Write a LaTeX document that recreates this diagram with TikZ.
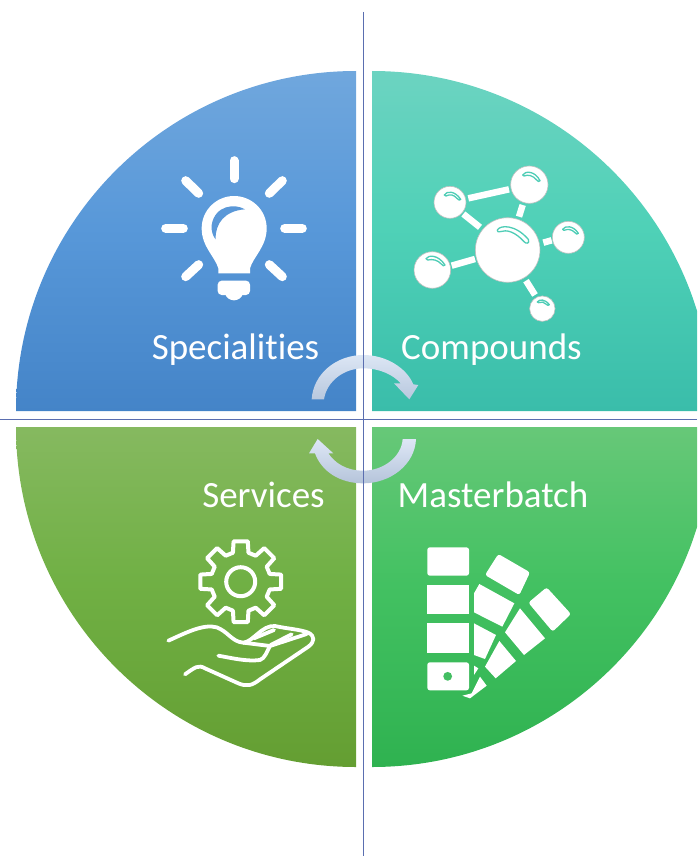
\documentclass[tikz,border=0pt]{standalone}
\usepackage{fontspec}
\setmainfont[Ligatures=NoCommon]{Carlito}
\definecolor{tealbg}{HTML}{4FCDB6}
\definecolor{bluebg}{HTML}{5A98D8}
\definecolor{greenbg}{HTML}{6FAE48}
\definecolor{swatchbg}{HTML}{43BE62}
\definecolor{axis}{HTML}{5A6EB0}
\pgfdeclareverticalshading{quadblue}{100bp}{rgb(0bp)=(.267,.518,.784); rgb(25bp)=(.267,.518,.784); rgb(52bp)=(.345,.596,.851); rgb(75bp)=(.439,.655,.867); rgb(100bp)=(.439,.655,.867)}
\pgfdeclareverticalshading{quadteal}{100bp}{rgb(0bp)=(.227,.741,.667); rgb(25bp)=(.227,.741,.667); rgb(52bp)=(.310,.820,.718); rgb(75bp)=(.424,.827,.757); rgb(100bp)=(.424,.827,.757)}
\pgfdeclareverticalshading{quadgreen}{100bp}{rgb(0bp)=(.392,.620,.196); rgb(25bp)=(.392,.620,.196); rgb(52bp)=(.439,.690,.267); rgb(75bp)=(.525,.725,.376); rgb(100bp)=(.525,.725,.376)}
\pgfdeclareverticalshading{quadmint}{100bp}{rgb(0bp)=(.184,.698,.314); rgb(25bp)=(.184,.698,.314); rgb(52bp)=(.263,.757,.384); rgb(75bp)=(.404,.784,.471); rgb(100bp)=(.404,.784,.471)}
\tikzset{
  quadlabel/.style={text=white,anchor=base,inner sep=0pt,font=\fontsize{37}{44}\selectfont},
  ray/.style={line width=9pt,white,line cap=round},
  bond/.style={line width=6.5pt,white},
  atom/.style={fill=white,draw=white!75!black,line width=.6pt},
  gloss/.style={line width=1.3pt,draw=tealbg,fill=white,line join=round},
  outline/.style={line width=3.8pt,white,line cap=round,line join=round},
  chip/.style={fill=white,rounded corners=2.5pt},
}
\begin{document}
\begin{tikzpicture}[x=1pt,y=-1pt]
\useasboundingbox (0,0) rectangle (697,856);
\begin{scope}
\clip (0,0) rectangle (697,856);
\shade[shading=quadblue]
  (356,411) -- (16,411) arc[start angle=180,end angle=90,radius=340pt] -- cycle;
\shade[shading=quadteal]
  (372,411) -- (372,71) arc[start angle=90,end angle=0,radius=340pt] -- cycle;
\shade[shading=quadgreen]
  (356,427) -- (16,427) arc[start angle=180,end angle=270,radius=340pt] -- cycle;
\shade[shading=quadmint]
  (372,427) -- (712,427) arc[start angle=0,end angle=-90,radius=340pt] -- cycle;
\end{scope}

% bulb
\begin{scope}[shift={(150,140)},x=.33333pt,y=-.33333pt]
  \draw[ray] (252,62) -- (252,116);
  \draw[ray] (47,265) -- (100,265);
  \draw[ray] (404,265) -- (457,265);
  \draw[ray] (107,122) -- (146,160);
  \draw[ray] (397,122) -- (358,160);
  \draw[ray] (146,374) -- (107,410);
  \draw[ray] (358,374) -- (397,410);
  \fill[white] (205,400) -- (205,385) .. controls (195,350) and (155,320) .. (155,265)
     .. controls (155,210) and (200,168) .. (252,168)
     .. controls (305,168) and (350,210) .. (350,265)
     .. controls (350,320) and (310,350) .. (300,385) -- (300,400) -- cycle;
  \fill[white,rounded corners=4pt] (203,422) -- (300,422) -- (300,465) -- (203,465) -- cycle;
  \fill[white] (225,460) .. controls (232,488) and (272,488) .. (279,460) -- cycle;
  \fill[bluebg] (285,208) .. controls (255,190) and (195,195) .. (185,255)
     .. controls (183,275) and (190,290) .. (197,298)
     .. controls (195,250) and (225,212) .. (285,208) -- cycle;
\end{scope}

% molecule
\begin{scope}[shift={(400,150)},x=.33333pt,y=-.33333pt]
  \draw[bond] (205,145) -- (327,118);
  \draw[bond] (368,165) -- (357,200);
  \draw[bond] (190,192) -- (240,232);
  \draw[bond] (430,278) -- (455,271);
  \draw[bond] (155,347) -- (225,327);
  \draw[bond] (378,392) -- (405,435);
  \filldraw[atom] (323,300) circle[radius=32.3pt];
  \filldraw[atom] (150,157) circle[radius=16pt];
  \filldraw[atom] (388,104) circle[radius=18.7pt];
  \filldraw[atom] (505,262) circle[radius=16pt];
  \filldraw[atom] (97,360) circle[radius=18.3pt];
  \filldraw[atom] (427,476) circle[radius=12.7pt];
  \filldraw[gloss] (292,240) .. controls (300,225) and (345,222) .. (385,268)
     .. controls (390,282) and (378,282) .. (372,275)
     .. controls (345,245) and (320,238) .. (300,245) .. controls (295,247) and (291,245) .. (292,240) -- cycle;
  \filldraw[gloss] (133,135) .. controls (140,122) and (165,122) .. (182,148)
     .. controls (180,153) and (175,150) .. (172,146) .. controls (160,133) and (150,132) .. (138,138) -- cycle;
  \filldraw[gloss] (368,75) .. controls (375,62) and (405,62) .. (420,92)
     .. controls (418,97) and (413,94) .. (410,90) .. controls (398,76) and (385,73) .. (372,78) -- cycle;
  \filldraw[gloss] (488,238) .. controls (495,226) and (520,226) .. (535,250)
     .. controls (533,255) and (528,252) .. (525,248) .. controls (515,238) and (505,236) .. (492,241) -- cycle;
  \filldraw[gloss] (78,326) .. controls (85,314) and (115,314) .. (135,345)
     .. controls (133,350) and (128,347) .. (125,343) .. controls (112,329) and (98,327) .. (83,330) -- cycle;
  \filldraw[gloss] (412,456) .. controls (418,447) and (435,447) .. (448,464)
     .. controls (446,468) and (442,466) .. (439,463) .. controls (432,456) and (425,454) .. (416,458) -- cycle;
\end{scope}

% gear and hand
\begin{scope}[shift={(240.7,581.7)}]
  \draw[outline,line width=4pt] (-15:30pt)
    \foreach \a in {0,45,...,315} { -- ({\a-15}:30pt) -- ({\a-10}:41pt) -- ({\a+10}:41pt) -- ({\a+15}:30pt) } -- cycle;
  \draw[outline,line width=4pt] (0,0) circle[radius=14.5pt];
\end{scope}
\begin{scope}[shift={(150,530)},x=.33333pt,y=-.33333pt]
  \draw[outline] (55,332) .. controls (100,312) and (160,280) .. (200,292)
     .. controls (235,305) and (245,335) .. (280,338)
     .. controls (310,335) and (335,285) .. (375,288)
     .. controls (410,296) and (450,298) .. (475,308)
     .. controls (495,318) and (495,335) .. (475,350)
     -- (330,448) .. controls (305,468) and (290,470) .. (265,460)
     -- (165,415) .. controls (145,403) and (135,412) .. (105,433);
  \draw[outline] (205,377) .. controls (250,385) and (290,395) .. (330,390)
     .. controls (345,385) and (350,365) .. (360,348)
     -- (470,312);
  \draw[outline] (280,338) -- (360,348);
  \draw[outline] (312,325) -- (372,300);
  \draw[outline] (362,345) -- (425,313);
\end{scope}

% swatches
\begin{scope}[shift={(410,535)},x=.33333pt,y=-.33333pt]
  \fill[chip] (52,37) rectangle (177,122);
  \fill[chip,rounded corners=0pt] (52,150) rectangle (177,238);
  \fill[chip,rounded corners=0pt] (52,265) rectangle (177,355);
  \fill[chip] (52,382) rectangle (177,466);
  \fill[swatchbg] (113,424) circle[radius=4.4pt];
  \fill[chip] (265,57) -- (360,112) -- (328,180) -- (225,120) -- cycle;
  \fill[chip] (410,157) -- (483,237) -- (428,290) -- (355,203) -- cycle;
  \fill[white] (208,147) -- (313,205) -- (277,275) -- (192,232) -- (192,175) -- cycle;
  \fill[white] (330,220) -- (405,310) -- (342,360) -- (285,292) -- cycle;
  \fill[white] (192,265) -- (258,300) -- (225,372) -- (192,360) -- cycle;
  \fill[white] (268,318) -- (318,378) -- (257,430) -- (225,395) -- cycle;
  \fill[white] (192,392) -- (205,400) -- (192,420) -- cycle;
  \fill[white] (210,425) -- (230,452) -- (180,490) -- (157,482) -- (185,475) -- cycle;
\end{scope}

% cycle arrows
\begin{scope}[shift={(280,340)},x=.33333pt,y=-.33333pt]
  \shade[top color={rgb,255:red,220;green,230;blue,244},bottom color={rgb,255:red,184;green,200;blue,222}]
    (95,178) .. controls (100,100) and (170,45) .. (250,45)
    .. controls (320,45) and (380,85) .. (400,133) -- (415,135) -- (388,178) -- (342,130) -- (362,130)
    .. controls (340,105) and (300,85) .. (250,85)
    .. controls (190,85) and (140,125) .. (132,178) -- cycle;
  \shade[top color={rgb,255:red,222;green,231;blue,246},bottom color={rgb,255:red,181;green,196;blue,218}]
    (408,297) .. controls (405,375) and (330,430) .. (250,430)
    .. controls (180,430) and (125,395) .. (105,340) -- (87,340) -- (113,297) -- (160,340) -- (145,340)
    .. controls (165,370) and (200,392) .. (250,392)
    .. controls (310,392) and (365,350) .. (368,297) -- cycle;
\end{scope}

% axes
\coordinate (vtop) at (363.5,12);
\coordinate (vbot) at (363.5,856);
\coordinate (hleft) at (0,419.5);
\coordinate (hright) at (697,419.5);
\draw[axis,line width=1pt] (vtop) -- (vbot);
\draw[axis,line width=1pt] (hleft) -- (hright);

% labels
\node[quadlabel] (spec) at (235.5,359) {Specialities};
\node[quadlabel] (comp) at (491.5,359) {Compounds};
\node[quadlabel] (serv) at (263.5,507) {Services};
\node[quadlabel] (mast) at (493,507) {Masterbatch};
\end{tikzpicture}
\end{document}
